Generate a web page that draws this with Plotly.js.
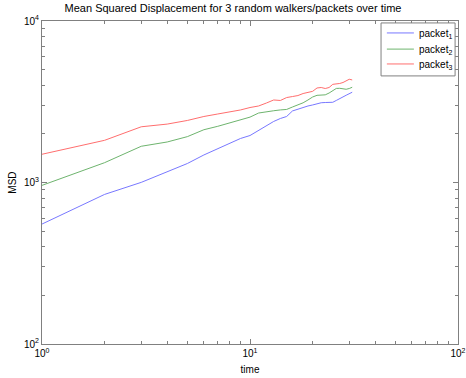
<!DOCTYPE html>
<html>
<head>
<meta charset="utf-8">
<script src="https://cdn.plot.ly/plotly-3.0.1.min.js"></script>
<style>html,body{margin:0;padding:0;background:#fff;}#chart{width:466px;height:378px;}</style>
</head>
<body>
<div id="chart"></div>
<script>
const time = [1,2,3,4,5,6,7,8,9,10,11,12,13,14,15,16,17,18,19,20,21,22,23,24,25,26,27,28,29,30,31];
const packet1 = [553,844,1002,1161,1311,1481,1625,1758,1873,1954,2100,2270,2388,2491,2563,2773,2852,2912,2977,3020,3072,3118,3128,3135,3138,3222,3290,3388,3470,3540,3622];
const packet2 = [960,1327,1676,1782,1923,2122,2228,2336,2437,2540,2693,2752,2782,2814,2834,2934,3020,3115,3243,3384,3466,3482,3490,3581,3686,3823,3831,3795,3778,3820,3888];
const packet3 = [1496,1825,2213,2300,2422,2563,2656,2733,2813,2912,2977,3107,3243,3220,3357,3406,3454,3556,3606,3669,3848,3874,3820,3874,4054,4073,4103,4161,4283,4358,4315];
const seriesNames = ['packet<sub>1</sub>','packet<sub>2</sub>','packet<sub>3</sub>'];
const xTickVals = [1,10,100];
const xTickText = ['10<sup>0</sup>','10<sup>1</sup>','10<sup>2</sup>'];
const yTickVals = [100,1000,10000];
const yTickText = ['10<sup>2</sup>','10<sup>3</sup>','10<sup>4</sup>'];
const titleText = 'Mean Squared Displacement for 3 random walkers/packets over time';
const xLabel = 'time';
const yLabel = 'MSD';

const colors = ['rgb(120,120,255)','rgb(110,180,110)','rgb(255,110,110)'];
const ys = [packet1, packet2, packet3];
const traces = ys.map((y,i)=>({x:time,y:y,type:'scatter',mode:'lines',name:seriesNames[i],line:{color:colors[i],width:1}}));

function minorVals(lo, hi){
  const out=[];
  for(let d=lo; d<hi; d*=10){ for(let k=2;k<=9;k++) out.push(d*k); }
  return out;
}
const axisCommon = {
  type:'log', showgrid:false, zeroline:false,
  showline:true, linecolor:'#808080', linewidth:1, mirror:'ticks',
  ticks:'inside', ticklen:5, tickcolor:'#808080', tickwidth:1,
  tickmode:'array', tickfont:{family:'Arial, Liberation Sans, sans-serif', size:10, color:'#000'}
};

// custom legend (box, sample lines, labels) in paper coordinates
const legX0 = 0.815, legX1 = 0.993, legY0 = 0.830, legY1 = 0.994;
const legLineX0 = 0.829, legLineX1 = 0.894, legTextX = 0.902;
const legRowY = [0.963, 0.913, 0.867];
const shapes = [{type:'rect', xref:'paper', yref:'paper', x0:legX0, x1:legX1, y0:legY0, y1:legY1,
  line:{color:'#808080', width:1}, fillcolor:'#fff', layer:'above'}];
const annotations = [];
seriesNames.forEach((n,i)=>{
  shapes.push({type:'line', xref:'paper', yref:'paper', x0:legLineX0, x1:legLineX1, y0:legRowY[i], y1:legRowY[i],
    line:{color:colors[i], width:1}, layer:'above'});
  annotations.push({xref:'paper', yref:'paper', x:legTextX, y:legRowY[i], xanchor:'left', yanchor:'middle',
    text:n, showarrow:false, font:{size:10, color:'#000'}, yshift:-1});
});

const layout = {
  width:466, height:378,
  margin:{l:42, r:8, t:21, b:34},
  paper_bgcolor:'#fff', plot_bgcolor:'#fff',
  font:{family:'Arial, Liberation Sans, sans-serif', size:10, color:'#000'},
  title:{text:titleText, font:{size:11, color:'#000'}, x:0.5, xanchor:'center', y:0.988, yanchor:'top'},
  xaxis:Object.assign({}, axisCommon, {
    range:[0,2], tickvals:xTickVals, ticktext:xTickText,
    minor:{tickmode:'array', tickvals:minorVals(1,100), ticks:'inside', ticklen:3, tickcolor:'#808080'},
    title:{text:xLabel, font:{size:10}, standoff:7}
  }),
  yaxis:Object.assign({}, axisCommon, {
    range:[2,4], tickvals:yTickVals, ticktext:yTickText,
    minor:{tickmode:'array', tickvals:minorVals(100,10000), ticks:'inside', ticklen:3, tickcolor:'#808080'},
    title:{text:yLabel, font:{size:10}, standoff:5}
  }),
  showlegend:false,
  shapes:shapes,
  annotations:annotations
};
Plotly.newPlot('chart', traces, layout, {staticPlot:true, displayModeBar:false});
</script>
</body>
</html>
